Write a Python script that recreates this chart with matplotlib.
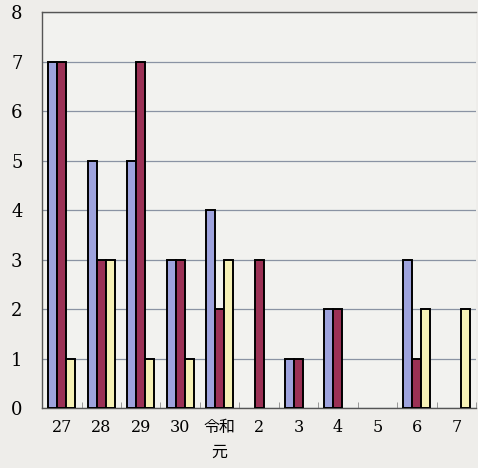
import matplotlib
matplotlib.use("Agg")
import matplotlib.pyplot as plt
import numpy as np

categories = ["27", "28", "29", "30", "令和\n元", "2", "3", "4", "5", "6", "7"]
series_a = [7, 5, 5, 3, 4, 0, 1, 2, 0, 3, 0]
series_b = [7, 3, 7, 3, 2, 3, 1, 2, 0, 1, 0]
series_c = [1, 3, 1, 1, 3, 0, 0, 0, 0, 2, 2]
yticks = [0, 1, 2, 3, 4, 5, 6, 7, 8]

colors = ["#9ea3dd", "#9b3155", "#f6f1b6"]
bg = "#eeedea"

fig = plt.figure(figsize=(4.78, 4.68), dpi=100, facecolor=bg)
ax = fig.add_axes([0.088, 0.128, 0.908, 0.846])
ax.set_facecolor("#f2f2ef")

x = np.arange(len(categories))
w = 0.228
for i, (vals, c) in enumerate(zip([series_a, series_b, series_c], colors)):
    vals = np.array(vals, dtype=float)
    m = vals > 0
    ax.bar((x + (i - 1) * w)[m], vals[m], width=w, color=c, edgecolor="black",
           linewidth=1.4, zorder=3)

ax.set_xlim(-0.5, len(categories) - 0.5)
ax.set_ylim(0, 8)
ax.set_yticks(yticks)
ax.set_yticklabels([str(v) for v in yticks], fontsize=13, family="DejaVu Serif")
ax.yaxis.grid(True, color="#8a93a3", linewidth=0.9, zorder=0)
ax.tick_params(axis="y", length=0, pad=14)

ax.set_xticks(x)
ax.set_xticklabels(categories, fontsize=11.5, linespacing=1.6,
                   family=["DejaVu Serif", "Noto Sans CJK JP"])
ax.tick_params(axis="x", which="major", length=0, pad=8)
ax.set_xticks(np.arange(-0.5, len(categories), 1), minor=True)
ax.tick_params(axis="x", which="minor", length=4, direction="in", color="#888888")

for s in ["left", "bottom", "top"]:
    ax.spines[s].set_color("#555555")
    ax.spines[s].set_linewidth(1.0)
ax.spines["right"].set_visible(False)

fig.savefig("out.png", dpi=100, facecolor=bg)
